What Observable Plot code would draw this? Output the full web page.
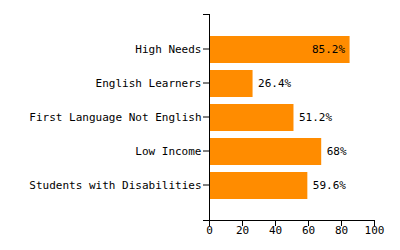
<!DOCTYPE html>
<html>
<head>
<meta charset="utf-8">
<script src="https://cdn.jsdelivr.net/npm/d3@7"></script>
<script src="https://cdn.jsdelivr.net/npm/@observablehq/plot@0.6"></script>
<style>
  body { margin: 0; background: #fff; }
  #chart svg { display: block; }
</style>
</head>
<body>
<div id="chart"></div>
<script>
const categories = ["High Needs", "English Learners", "First Language Not English", "Low Income", "Students with Disabilities"];
const values = [85.2, 26.4, 51.2, 68, 59.6];
const xTicks = [0, 20, 40, 60, 80, 100];

const data = categories.map((c, i) => ({category: c, value: values[i]}));
const insideThreshold = 80;

const outerTicks = (index, scales, vals, dims) => {
  const g = d3.create("svg:g").attr("stroke", "black").attr("fill", "none");
  const x0 = dims.marginLeft;
  const yTop = dims.marginTop;
  const yBot = dims.height - dims.marginBottom;
  g.append("line").attr("x1", x0 - 6).attr("x2", x0).attr("y1", yTop + 0.5).attr("y2", yTop + 0.5);
  g.append("line").attr("x1", x0 - 6).attr("x2", x0).attr("y1", yBot + 0.5).attr("y2", yBot + 0.5);
  return g.node();
};

const chart = Plot.plot({
  width: 400,
  height: 250,
  marginLeft: 209,
  marginRight: 26,
  marginTop: 14,
  marginBottom: 30,
  style: {fontFamily: "'DejaVu Sans Mono', monospace", fontSize: "11px", background: "white", color: "black"},
  x: {domain: [0, 100]},
  y: {domain: categories, paddingInner: 0.215, paddingOuter: 0.6},
  marks: [
    Plot.barX(data, {x: "value", y: "category", fill: "#FF8C00"}),
    Plot.text(data, {filter: d => d.value > insideThreshold, x: "value", y: "category", text: d => d.value + "%", textAnchor: "end", dx: -5, dy: -1, fill: "black"}),
    Plot.text(data, {filter: d => d.value <= insideThreshold, x: "value", y: "category", text: d => d.value + "%", textAnchor: "start", dx: 5, dy: -1, fill: "black"}),
    Plot.axisX({ticks: xTicks, tickSize: 6, tickPadding: 0, label: null, tickFormat: d => d}),
    Plot.axisY({tickSize: 6, tickPadding: 2, dy: -1, label: null}),
    Plot.frame({anchor: "left"}),
    Plot.frame({anchor: "bottom"}),
    outerTicks
  ]
});
document.getElementById("chart").append(chart);
</script>
</body>
</html>
